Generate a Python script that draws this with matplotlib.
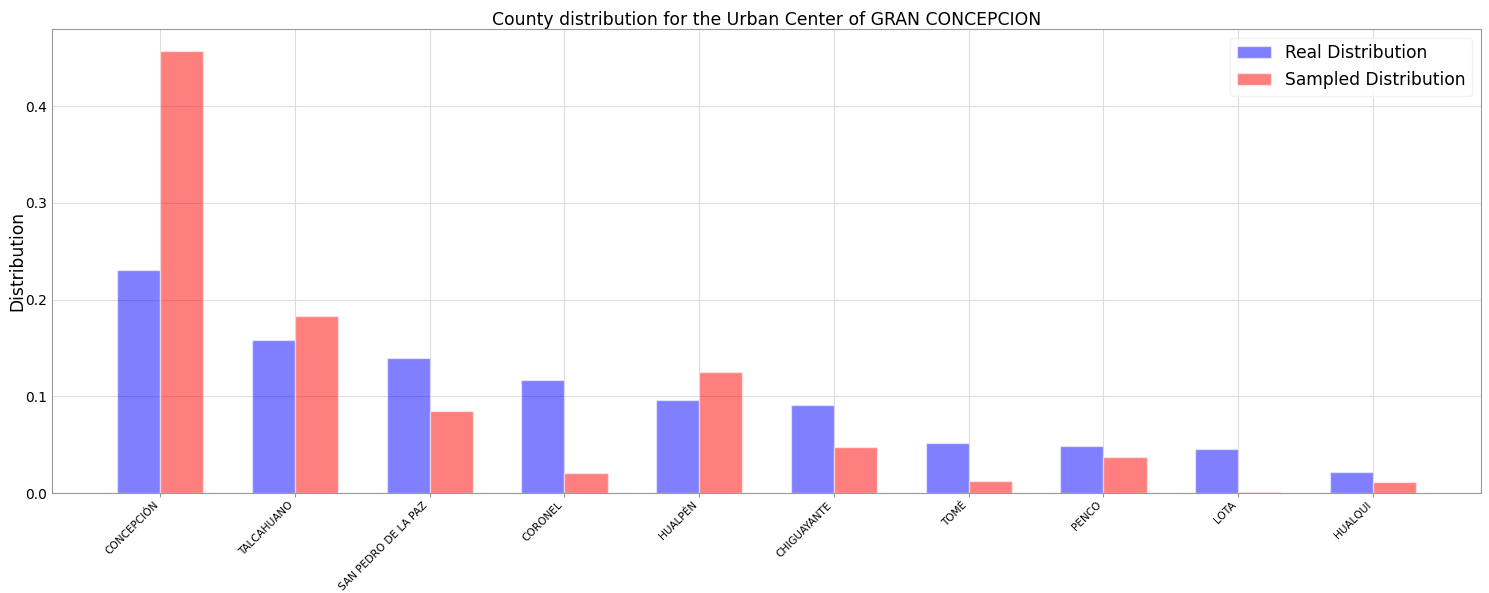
import numpy as np
import matplotlib
matplotlib.use("Agg")
import matplotlib.pyplot as plt

counties = ["CONCEPCIÓN", "TALCAHUANO", "SAN PEDRO DE LA PAZ", "CORONEL", "HUALPÉN",
            "CHIGUAYANTE", "TOMÉ", "PENCO", "LOTA", "HUALQUI"]
real_dist = [0.2306, 0.158, 0.1396, 0.117, 0.096, 0.091, 0.0522, 0.049, 0.046, 0.0222]
sampled_dist = [0.457, 0.183, 0.0853, 0.0212, 0.1256, 0.0476, 0.0129, 0.0377, 0.001, 0.0114]

fig, ax = plt.subplots(figsize=(14.89, 5.93), dpi=100)
fig.subplots_adjust(left=0.035, right=0.9946, bottom=0.1686, top=0.951)

x = np.arange(len(counties))
w = 0.32
ax.bar(x - w / 2, real_dist, w, color="blue", alpha=0.5, edgecolor="white",
       linewidth=1, label="Real Distribution", zorder=2)
ax.bar(x + w / 2, sampled_dist, w, color="red", alpha=0.5, edgecolor="white",
       linewidth=1, label="Sampled Distribution", zorder=2)

ax.set_xticks(x)
ax.set_xticklabels(counties, rotation=45, ha="right", rotation_mode="default", fontsize=7.6)
ax.tick_params(axis="y", labelsize=10, length=0)
ax.tick_params(axis="x", length=3, pad=2, color="#999999")
ax.set_ylabel("Distribution", fontsize=12.3, labelpad=-1)
ax.set_title("County distribution for the Urban Center of GRAN CONCEPCION",
             fontsize=12.4, pad=3)
ax.grid(True, color="#dddddd", linewidth=0.8, zorder=0)
ax.set_axisbelow(True)
for s in ax.spines.values():
    s.set_color("#999999")
ax.legend(fontsize=12.3, loc="upper right", framealpha=0.8, edgecolor="#eeeeee")

fig.savefig("out.png", dpi=100)
